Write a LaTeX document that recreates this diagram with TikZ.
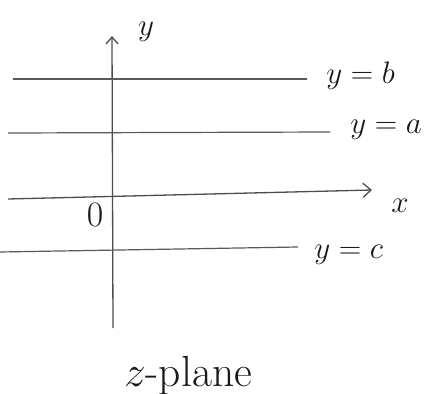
\documentclass[tikz,border=0pt]{standalone}
\usetikzlibrary{arrows.meta}
\begin{document}
\begin{tikzpicture}[x=1pt,y=-1pt,
  axisline/.style={draw=black!70,line width=1.3pt},
  gridline/.style={draw=black!65,line width=1.2pt},
  lbl/.style={text=black!90,font=\Huge,inner sep=0pt,scale=1.25}]
\useasboundingbox (0,0) rectangle (440,394);
% coordinates
\coordinate (ytop) at (112,36);
\coordinate (ybot) at (113,328);
\coordinate (xl) at (8,199);
\coordinate (xr) at (372,190);
\coordinate (bl) at (13,79);
\coordinate (br) at (307,79);
\coordinate (al) at (8,133);
\coordinate (ar) at (330,132);
\coordinate (cl) at (0,252);
\coordinate (cr) at (298,247);
% axes
\draw[axisline,-{Straight Barb[length=7pt,width=12pt]}] (ybot) -- (ytop);
\draw[axisline,-{Straight Barb[length=8pt,width=14pt]}] (xl) -- (xr);
% lines
\draw[gridline] (bl) -- (br);
\draw[gridline] (al) -- (ar);
\draw[gridline] (cl) -- (cr);
% labels
\node[lbl] (ylab) at (146,32) {$y$};
\node[lbl] (xlab) at (400,206) {$x$};
\node[lbl,scale=1.15] (olab) at (95,215) {$0$};
\node[lbl,anchor=west] (blab) at (326,76) {$y=b$};
\node[lbl,anchor=west] (alab) at (350,130) {$y=a$};
\node[lbl,anchor=west] (clab) at (314,255) {$y=c$};
\node[lbl,scale=1.4] (zlab) at (188,376) {$z$-plane};
\end{tikzpicture}
\end{document}
